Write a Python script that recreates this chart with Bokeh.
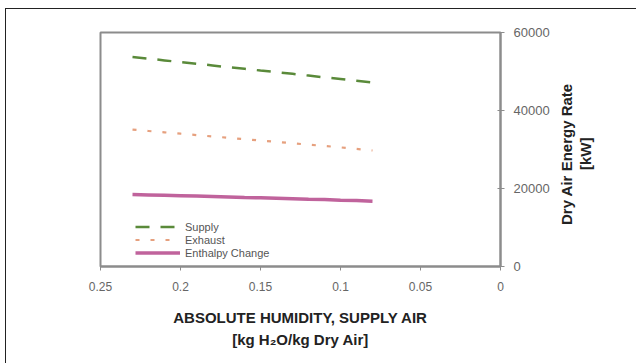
from bokeh.plotting import figure
from bokeh.models import Range1d, FixedTicker, Legend, LegendItem, Div
from bokeh.layouts import row
from bokeh.embed import file_html
from bokeh.resources import INLINE

humidity = [0.23, 0.22, 0.21, 0.20, 0.19, 0.18, 0.17, 0.16, 0.15, 0.14, 0.13, 0.12, 0.11, 0.10, 0.09, 0.08]
supply = [53700, 53300, 52850, 52400, 52000, 51550, 51100, 50700, 50250, 49850, 49400, 48950, 48500, 48100, 47650, 47200]
exhaust = [35100, 34750, 34400, 34050, 33700, 33350, 33000, 32650, 32300, 31950, 31600, 31250, 30900, 30550, 30150, 29750]
enthalpy = [18450, 18350, 18250, 18150, 18050, 17950, 17850, 17700, 17600, 17500, 17400, 17250, 17150, 17000, 16900, 16750]
x_ticks = [0.25, 0.2, 0.15, 0.1, 0.05, 0]
x_tick_labels = ["0.25", "0.2", "0.15", "0.1", "0.05", "0"]
y_ticks = [0, 20000, 40000, 60000]
series_names = ["Supply", "Exhaust", "Enthalpy Change"]
y_title_lines = ["Dry Air Energy Rate", "[kW]"]

FONT = "Liberation Sans"

p = figure(width=554, height=360, output_backend="svg", toolbar_location=None,
           x_range=Range1d(0.25, 0), y_range=Range1d(0, 60000),
           y_axis_location="right",
           min_border_left=94, min_border_top=23, min_border_right=60, min_border_bottom=103)

p.xgrid.visible = False
p.ygrid.visible = False
p.outline_line_color = "#8c8c8c"
p.outline_line_width = 2

r1 = p.line(humidity, supply, line_color="#5a8a3a", line_width=2.5, line_dash="14 11")
r2 = p.line(humidity, exhaust, line_color="#e6a07e", line_width=2.2, line_dash="4 11")
r3 = p.line(humidity, enthalpy, line_color="#c0639c", line_width=3.5)

legend = Legend(items=[LegendItem(label=series_names[0], renderers=[r1]),
                       LegendItem(label=series_names[1], renderers=[r2]),
                       LegendItem(label=series_names[2], renderers=[r3])],
                location=(33, 5), background_fill_alpha=0, border_line_alpha=0,
                label_text_font=FONT, label_text_font_size="11px",
                label_text_color="#555555", glyph_width=45, glyph_height=13,
                label_height=13, spacing=0, padding=2, margin=0, label_standoff=5)
p.add_layout(legend, "center")

xa = p.xaxis[0]
xa.ticker = FixedTicker(ticks=x_ticks)
xa.major_label_overrides = {t: l for t, l in zip(x_ticks, x_tick_labels)}
xa.axis_line_color = "#8c8c8c"
xa.axis_line_width = 2
xa.major_tick_line_color = "#8c8c8c"
xa.major_tick_in = 0
xa.major_tick_out = 4
xa.minor_tick_line_color = None
xa.major_label_text_font = FONT
xa.major_label_text_font_size = "12px"
xa.major_label_text_color = "#666666"
xa.major_label_standoff = 11
xa.axis_label = "ABSOLUTE HUMIDITY, SUPPLY AIR\n[kg H\u2082O/kg Dry Air]"
xa.axis_label_text_font = FONT
xa.axis_label_text_font_style = "bold"
xa.axis_label_text_font_size = "15px"
xa.axis_label_text_color = "#222222"
xa.axis_label_standoff = 15
xa.axis_label_text_line_height = 1.35

ya = p.yaxis[0]
ya.ticker = FixedTicker(ticks=y_ticks)
ya.axis_line_color = "#8c8c8c"
ya.axis_line_width = 2
ya.major_tick_line_color = "#8c8c8c"
ya.major_tick_in = 3
ya.major_tick_out = 4
ya.minor_tick_line_color = None
ya.major_label_text_font = FONT
ya.major_label_text_font_size = "13px"
ya.major_label_text_color = "#666666"
ya.major_label_standoff = 9

# y title: real text, rotated to read bottom-to-top
ytitle = Div(text="<br>".join(y_title_lines), width=70, height=280,
             styles={"font-family": FONT, "font-weight": "bold", "font-size": "15px",
                     "line-height": "19px", "color": "#222222",
                     "writing-mode": "vertical-rl",
                     "transform": "translate(-8px, 0px) rotate(180deg)",
                     "text-align": "center", "white-space": "nowrap"})

layout = row(p, ytitle)
layout.styles = {"margin-left": "5px", "margin-top": "8px", "border": "1px solid #222222",
                 "background-color": "white"}

open("out.html", "w").write(file_html(layout, INLINE))
